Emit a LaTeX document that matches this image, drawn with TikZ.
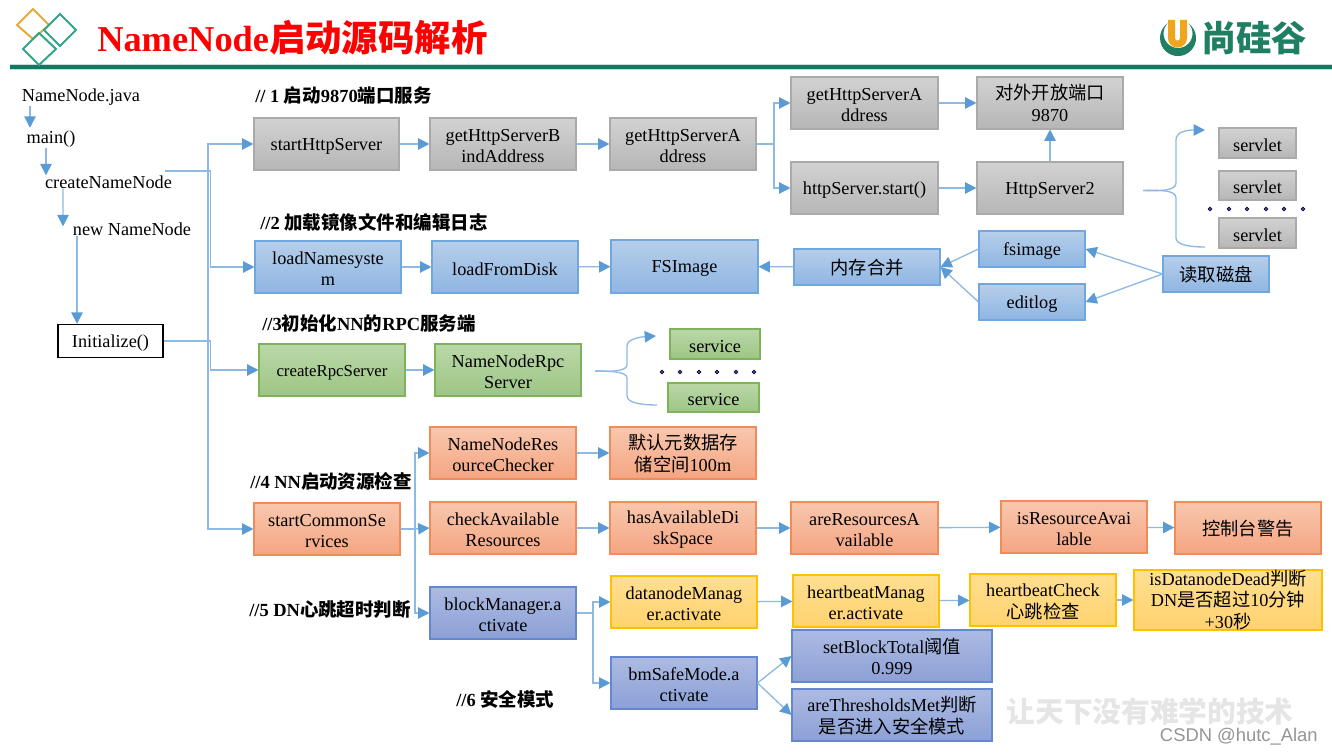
\documentclass[tikz,border=0pt]{standalone}
\usepackage{fontspec}
\setmainfont{Liberation Serif}
\setsansfont{Liberation Sans}
\newfontfamily\cjk{Noto Sans CJK SC}
\newcommand{\zh}[1]{{\cjk #1}}
\newcommand{\up}{\rule{0pt}{12pt}}
\usetikzlibrary{arrows.meta,shadings}
\definecolor{lineblue}{HTML}{8DB9E2}
\definecolor{tipblue}{HTML}{5B9BD5}
\definecolor{bargreen}{HTML}{0F7A62}
\definecolor{logogreen}{HTML}{1F7F62}
\tikzset{
  x=0.75pt,y=-0.75pt,
  sz/.style 2 args={minimum width=#1*0.75pt,minimum height=#2*0.75pt},
  boxbase/.style={draw,line width=0.8pt,inner sep=0pt,align=center,
    font=\fontsize{13.7}{16.2}\selectfont,text=black,
    execute at begin node={\rule{0pt}{12.4pt}}},
  graybox/.style={boxbase,draw={rgb,255:red,170;green,170;blue,170},top color={rgb,255:red,210;green,210;blue,210},bottom color={rgb,255:red,182;green,182;blue,182}},
  bluebox/.style={boxbase,draw={rgb,255:red,112;green,168;blue,222},top color={rgb,255:red,182;green,206;blue,234},bottom color={rgb,255:red,143;green,182;blue,226}},
  greenbox/.style={boxbase,draw={rgb,255:red,125;green,180;blue,90},top color={rgb,255:red,186;green,216;blue,168},bottom color={rgb,255:red,157;green,197;blue,133}},
  orangebox/.style={boxbase,draw={rgb,255:red,240;green,140;blue,90},top color={rgb,255:red,249;green,199;blue,174},bottom color={rgb,255:red,244;green,165;blue,130}},
  yellowbox/.style={boxbase,draw={rgb,255:red,255;green,192;blue,0},top color={rgb,255:red,255;green,223;blue,145},bottom color={rgb,255:red,255;green,210;blue,110}},
  indigobox/.style={boxbase,draw={rgb,255:red,100;green,135;blue,205},top color={rgb,255:red,172;green,187;blue,226},bottom color={rgb,255:red,140;green,160;blue,214}},
  plain/.style={inner sep=0pt,font=\fontsize{13.7}{16.2}\selectfont},
  heading/.style={inner sep=0pt,anchor=west,font=\fontsize{13.85}{16}\selectfont\bfseries},
  conn/.style={draw=lineblue,line width=1pt,-{Triangle[length=8.5pt,width=8.5pt,color=tipblue]}},
  bare/.style={draw=lineblue,line width=1pt},
  dotmark/.style={draw=black!75!blue,line width=0.8pt,fill=white},
}
\begin{document}
\begin{tikzpicture}
\useasboundingbox (0,0) rectangle (1332,755);
% header
\draw[line width=4.5pt,draw=bargreen!25] (10,67) -- (1332,67);
\draw[line width=3pt,draw=bargreen] (10,67) -- (1332,67);
\draw[line width=1.5pt,draw={rgb,255:red,230;green,170;blue,60}] (33,9) -- (49,25) -- (33,39) -- (17,25) -- cycle;
\draw[line width=1.5pt,draw={rgb,255:red,50;green,165;blue,140}] (60,14) -- (76,30) -- (60,46) -- (44,30) -- cycle;
\draw[line width=1.5pt,draw={rgb,255:red,50;green,165;blue,140}] (39,33) -- (56,49) -- (39,65) -- (23,49) -- cycle;
\node[inner sep=0pt,anchor=west,text=red,font=\fontsize{27.3}{30}\selectfont\bfseries] (title) at (97,38) {NameNode{\cjk 启动源码解析}};
% logo
\fill[fill=logogreen] (1167.7,23.3) arc[start angle=235,end angle=-55,radius=18] arc[start angle=-44.7,end angle=224.7,radius=14.5] -- cycle;
\draw[line width=5.25pt,draw={rgb,255:red,240;green,165;blue,30},line cap=butt] (1171.5,20) -- (1171.5,38) arc[start angle=180,end angle=0,radius=6] -- (1183.5,20);
\node[inner sep=0pt,anchor=west,text=logogreen,font=\fontsize{26.5}{28}\selectfont\bfseries] (logotext) at (1201,38) {\cjk 尚硅谷};
% left column
\node[plain] (nnj) at (81,97) {NameNode.java};
\node[plain] (mainf) at (51,139) {main()};
\node[plain] (cnn) at (108.5,182) {createNameNode};
\node[plain] (newnn) at (132,229) {new NameNode};
\node[boxbase,draw=black,fill=white,line width=1pt,sz={105}{33}] (init) at (110.5,341) {Initialize()};
% headings
\node[heading] (h1) at (255,96) {// 1 {\cjk 启动}9870{\cjk 端口服务}};
\node[heading] (h2) at (260,222) {//2 {\cjk 加载镜像文件和编辑日志}};
\node[heading] (h3) at (262,323) {//3{\cjk 初始化}NN{\cjk 的}RPC{\cjk 服务端}};
\node[heading] (h4) at (250,481) {//4 NN{\cjk 启动资源检查}};
\node[heading] (h5) at (249,610) {//5 DN{\cjk 心跳超时判断}};
\node[heading] (h6) at (456,699) {//6 {\cjk 安全模式}};
% row 1
\node[graybox,sz={145}{52}] (shs) at (326.5,144) {startHttpServer};
\node[graybox,sz={146}{52}] (gba) at (503,144) {\up getHttpServerB\\indAddress};
\node[graybox,sz={146}{52}] (gsa) at (683,144) {\up getHttpServerA\\ddress};
\node[graybox,sz={147}{52}] (gsb) at (864.5,103) {\up getHttpServerA\\ddress};
\node[graybox,sz={146}{52}] (port) at (1050,103) {\zh{对外开放端口}\\9870};
\node[graybox,sz={147}{52}] (hstart) at (864.5,188) {httpServer.start()};
\node[graybox,sz={146}{52}] (hs2) at (1050,188) {HttpServer2};
\node[graybox,sz={77}{30}] (sv1) at (1257.5,143) {servlet};
\node[graybox,sz={77}{29}] (sv2) at (1257.5,185.5) {servlet};
\node[graybox,sz={77}{30}] (sv3) at (1257.5,233) {servlet};
% row 2
\node[bluebox,sz={146}{52}] (lns) at (328,267) {\up loadNamesyste\\m};
\node[bluebox,sz={146}{52}] (lfd) at (505,267) {loadFromDisk};
\node[bluebox,sz={147}{53}] (fsi) at (684.5,266.5) {FSImage};
\node[bluebox,sz={146}{36}] (merge) at (867,267) {\zh{内存合并}};
\node[bluebox,sz={106}{36}] (fsm) at (1032,249) {fsimage};
\node[bluebox,sz={106}{36}] (edl) at (1032,302) {editlog};
\node[bluebox,sz={106}{36}] (disk) at (1216,274) {\zh{读取磁盘}};
% row 3
\node[greenbox,sz={146}{52},font=\fontsize{12.6}{16.2}\selectfont] (crs) at (332,370) {createRpcServer};
\node[greenbox,sz={146}{52}] (nrs) at (508,370) {\up NameNodeRpc\\Server};
\node[greenbox,sz={90}{30}] (sc1) at (715,344) {service};
\node[greenbox,sz={91}{29}] (sc2) at (713.5,397.5) {service};
% row 4
\node[orangebox,sz={146}{52}] (nrc) at (503,453) {\up NameNodeRes\\ourceChecker};
\node[orangebox,sz={146}{52}] (dfl) at (683,453) {\up\zh{默认元数据存}\\\zh{储空间}100m};
\node[orangebox,sz={146}{52}] (scs) at (327,529) {\up startCommonSe\\rvices};
\node[orangebox,sz={146}{52}] (car) at (503,528) {\up checkAvailable\\Resources};
\node[orangebox,sz={146}{52}] (hds) at (683,528) {\up hasAvailableDi\\skSpace};
\node[orangebox,sz={147}{52}] (ara) at (864.5,528) {\up areResourcesA\\vailable};
\node[orangebox,sz={146}{52}] (ira) at (1074,527) {\up isResourceAvai\\lable};
\node[orangebox,sz={146}{52}] (warn) at (1248,528) {\zh{控制台警告}};
% row 5
\node[indigobox,sz={146}{52}] (bma) at (503,613) {\up blockManager.a\\ctivate};
\node[yellowbox,sz={146}{52}] (dma) at (684,602) {\up datanodeManag\\er.activate};
\node[yellowbox,sz={146}{52}] (hma) at (866,601) {\up heartbeatManag\\er.activate};
\node[yellowbox,sz={146}{52}] (hbc) at (1043,600) {\up heartbeatCheck\\\zh{心跳检查}};
\node[yellowbox,sz={188}{52}] (idd) at (1228,600) {isDatanodeDead\zh{判断}\\DN\zh{是否超过}10\zh{分钟}\\+30\zh{秒}};
% row 6
\node[indigobox,sz={146}{52}] (bsm) at (684,683) {\up bmSafeMode.a\\ctivate};
\node[indigobox,sz={200}{52}] (sbt) at (892,656) {\up setBlockTotal\zh{阈值}\\0.999};
\node[indigobox,sz={200}{52}] (atm) at (892,715) {\up areThresholdsMet\zh{判断}\\\zh{是否进入安全模式}};
% routing points
\coordinate (cnnout) at (165,171);
\coordinate (trA) at (208,171);
\coordinate (trB) at (210.5,171);
\coordinate (trC) at (210.5,341);
\coordinate (trD) at (415,529);
\coordinate (trE) at (774,144);
\coordinate (trF) at (593,613);
% left connectors
\draw[conn] ([xshift=-38.25pt]nnj.south) -- ([xshift=-15.75pt,yshift=2pt]mainf.north);
\draw[conn] ([xshift=-3.75pt]mainf.south) -- ([xshift=-46.875pt]cnn.north);
\draw[conn] ([xshift=-34.1pt]cnn.south) -- ([xshift=-51.75pt,yshift=-3pt]newnn.north);
\draw[conn] ([xshift=-41.25pt]newnn.south) -- ([xshift=-25.125pt]init.north);
\draw[bare] (cnnout) -- (trB);
\draw[conn] (trA) |- (shs.west);
\draw[conn] (trB) |- (lns.west);
\draw[conn] (init.east) -- (trC) |- (crs.west);
\draw[conn] (trA) |- (scs.west);
% row 1 connectors
\draw[conn] (shs) -- (gba);
\draw[conn] (gba) -- (gsa);
\draw[bare] (gsa.east) -- (trE);
\draw[conn] (trE) |- (gsb.west);
\draw[conn] (trE) |- (hstart.west);
\draw[conn] (gsb) -- (port);
\draw[conn] (hstart) -- (hs2);
\draw[conn] (hs2) -- (port);
% row 2 connectors
\draw[conn] (lns) -- (lfd);
\draw[conn] (lfd) -- (fsi);
\draw[conn] (merge) -- (fsi);
\draw[conn] (fsm.west) -- (merge.east);
\draw[conn] (edl.west) -- (merge.east);
\draw[conn] (disk.west) -- (fsm.east);
\draw[conn] (disk.west) -- (edl.east);
% row 3
\draw[conn] (crs) -- (nrs);
% row 4
\draw[bare] (scs.east) -- (trD);
\draw[conn] (trD) |- (nrc.west);
\draw[conn] (trD) -- (car.west);
\draw[conn] (trD) |- (bma.west);
\draw[conn] (nrc) -- (dfl);
\draw[conn] (car) -- (hds);
\draw[conn] (hds) -- (ara);
\draw[conn] (ara) -- (ira);
\draw[conn] (ira) -- (warn);
% row 5
\draw[bare] (bma.east) -- (trF);
\draw[conn] (trF) |- (dma.west);
\draw[conn] (trF) |- (bsm.west);
\draw[conn] (dma) -- (hma);
\draw[conn] (hma) -- (hbc);
\draw[conn] (hbc) -- (idd);
\draw[conn] (bsm.east) -- (sbt.west);
\draw[conn] (bsm.east) -- (atm.west);
% braces
\coordinate (bsA) at (1143,190.5);
\coordinate (bsB) at (1205,130);
\coordinate (bsC) at (1205,247);
\draw[conn] (bsA) .. controls (1160,191) and (1176,191) .. (1176,183) -- (1176,140) .. controls (1176,132) and (1186,130) .. (bsB);
\draw[bare] (bsA) .. controls (1160,190) and (1176,190) .. (1176,198) -- (1176,238) .. controls (1176,245) and (1190,247) .. (bsC);
\coordinate (bcA) at (595,371);
\coordinate (bcB) at (656,336);
\coordinate (bcC) at (657,405);
\draw[conn] (bcA) .. controls (612,372) and (627,371) .. (627,365) -- (627,346) .. controls (627,339) and (640,337) .. (bcB);
\draw[bare] (bcA) .. controls (612,371) and (627,372) .. (627,378) -- (627,396) .. controls (627,403) and (642,405) .. (bcC);
% dots
\foreach \px in {1210,1229,1247,1266,1284,1303} \draw[dotmark] (\px,209) circle[radius=1.7];
\foreach \px in {662,680,699,717,736,754} \draw[dotmark] (\px,372) circle[radius=1.7];
% watermark
\node[inner sep=0pt,text=black!10,font=\fontsize{21.5}{24}\selectfont\bfseries] (wm) at (1150,711) {\cjk 让天下没有难学的技术};
\node[inner sep=0pt,anchor=east,text=black!42,font=\sffamily\fontsize{13.8}{15}\selectfont] (csdn) at (1318,737) {CSDN @hutc\_Alan};
\end{tikzpicture}
\end{document}
